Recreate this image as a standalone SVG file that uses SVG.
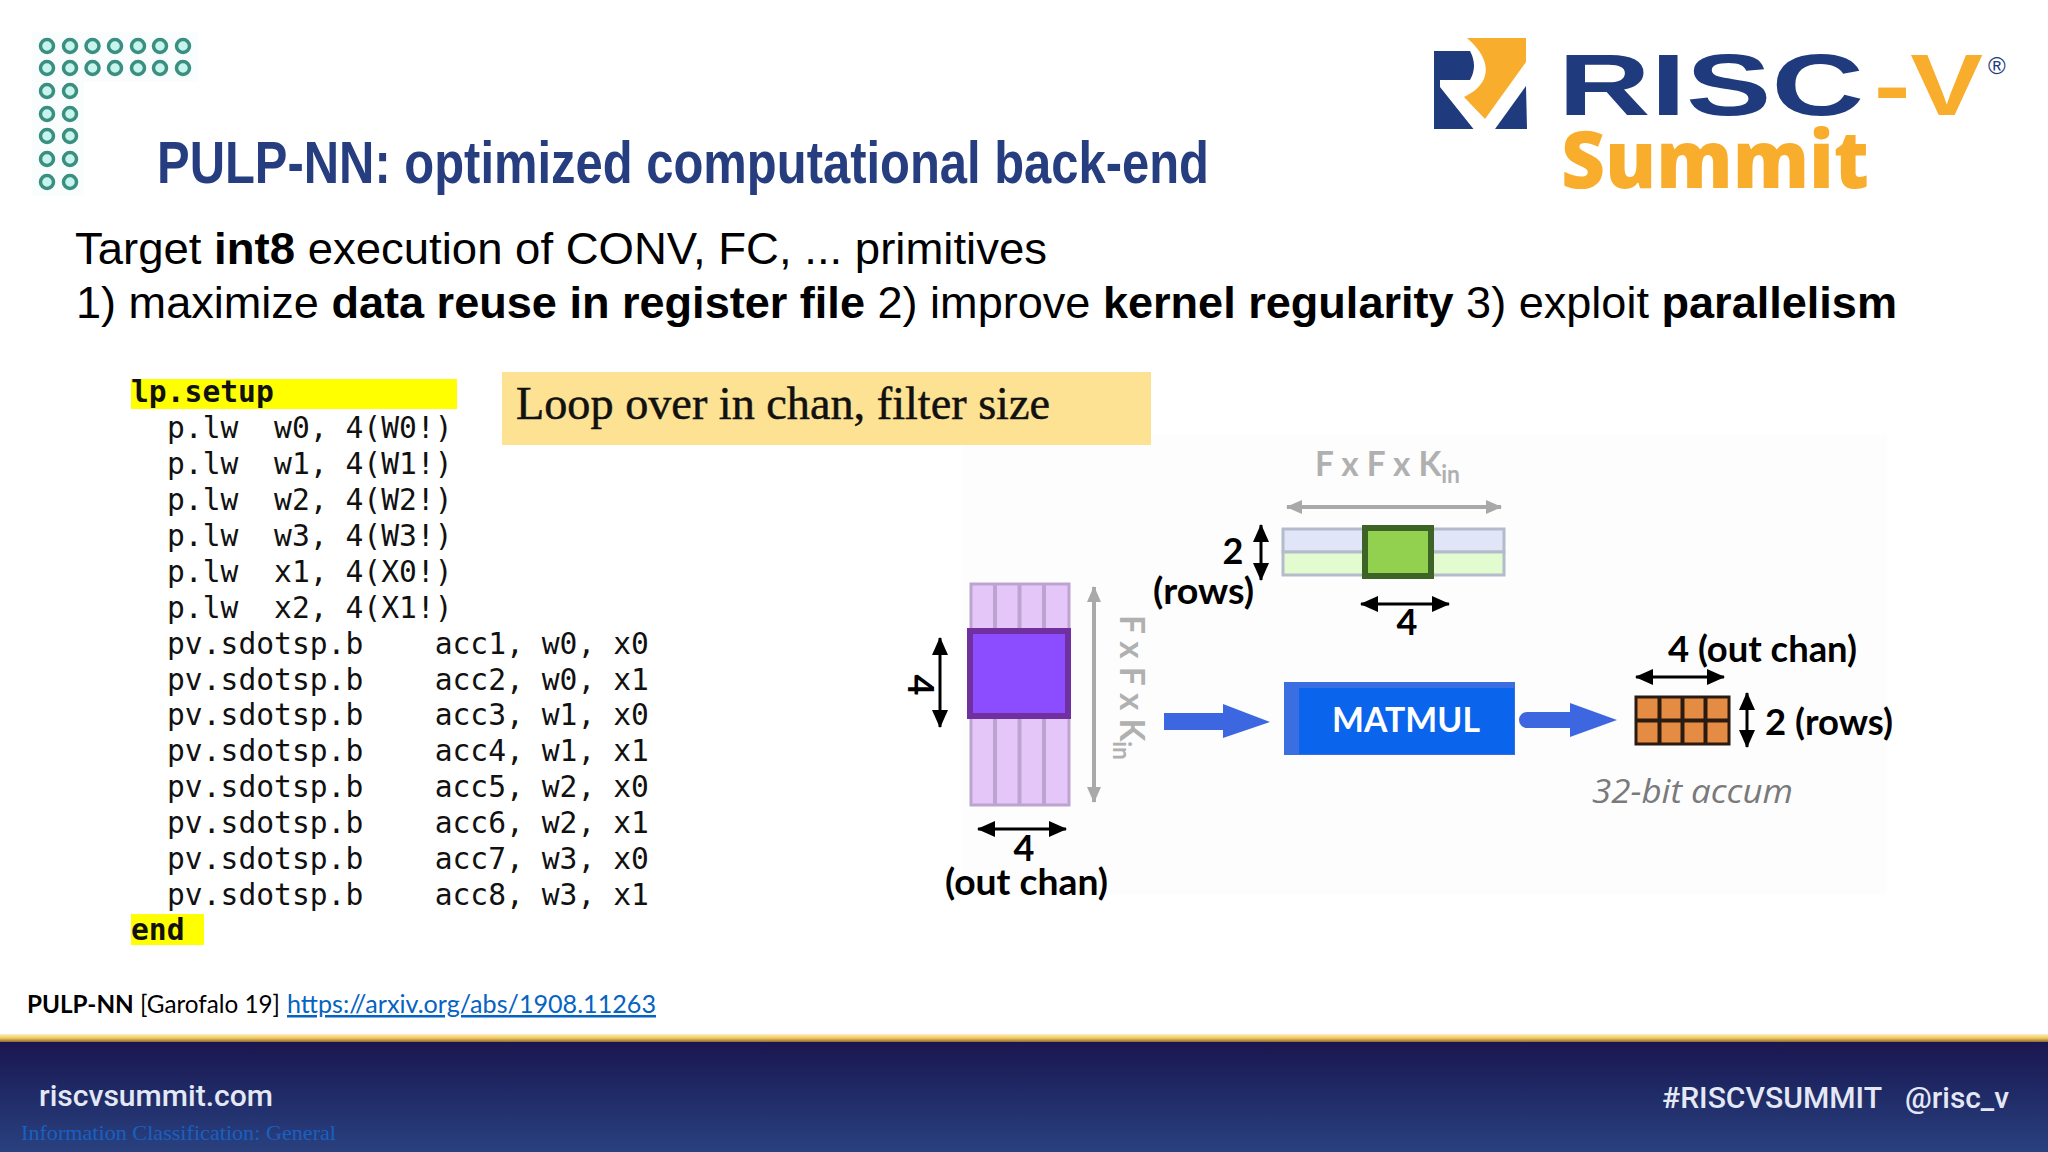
<svg xmlns="http://www.w3.org/2000/svg" width="2048" height="1152" viewBox="0 0 2048 1152">
<defs>
<linearGradient id="foot" x1="0" y1="0" x2="0" y2="1"><stop offset="0" stop-color="#1b1650"/><stop offset="0.45" stop-color="#1f2a66"/><stop offset="1" stop-color="#2a417f"/></linearGradient>
<linearGradient id="gold" x1="0" y1="0" x2="0" y2="1"><stop offset="0" stop-color="#fdf0c0"/><stop offset="0.5" stop-color="#f4c860"/><stop offset="1" stop-color="#8a6a30"/></linearGradient>
<marker id="bk" viewBox="0 0 18 16" refX="17" refY="8" markerWidth="18" markerHeight="16" markerUnits="userSpaceOnUse" orient="auto-start-reverse"><path d="M0 0L18 8L0 16Z" fill="#000"/></marker>
<marker id="gy" viewBox="0 0 16 14" refX="15" refY="7" markerWidth="16" markerHeight="14" markerUnits="userSpaceOnUse" orient="auto-start-reverse"><path d="M0 0L16 7L0 14Z" fill="#a9a9a9"/></marker>
</defs>
<style>
.code{font-family:"DejaVu Sans Mono",monospace;font-size:29.65px;fill:#111;white-space:pre}
.cb{font-weight:700}
.body{font-family:"Liberation Sans",Arial,sans-serif;font-size:44px;fill:#000}
.b{font-weight:700}
.lbl{font-family:"Lato",sans-serif;font-weight:700;font-size:36px;fill:#000}
.gl{font-family:"Lato",sans-serif;font-weight:700;font-size:35px;fill:#b0b0b0}
.dim{stroke:#000;stroke-width:3;fill:none;marker-start:url(#bk);marker-end:url(#bk)}
.gdim{stroke:#a9a9a9;stroke-width:4;fill:none;marker-start:url(#gy);marker-end:url(#gy)}
.dot{fill:#c8f4ee;stroke:#3a8f80;stroke-width:3.5}
.ft{font-family:"Roboto",sans-serif;font-weight:500;fill:#e4e8f4;font-size:30px}
.blue{fill:#3c67e0}
.div{stroke-width:4;fill:none}
</style>
<rect width="2048" height="1152" fill="#fff"/>
<rect x="962" y="435" width="925" height="460" fill="#fdfdfe"/>

<g id="dots-logo">
<rect x="32" y="32" width="166" height="50" fill="#f9fdfd"/><rect x="32" y="80" width="52" height="116" fill="#f9fdfd"/>
<g class="dot">
<circle cx="47" cy="46" r="6.5"/><circle cx="70" cy="46" r="6.5"/><circle cx="92.500" cy="46" r="6.500"/><circle cx="115" cy="46" r="6.500"/><circle cx="138" cy="46" r="6.500"/><circle cx="160" cy="46" r="6.500"/><circle cx="183" cy="46" r="6.500"/>
<circle cx="47" cy="68" r="6.500"/><circle cx="70" cy="68" r="6.500"/><circle cx="92.500" cy="68" r="6.500"/><circle cx="115" cy="68" r="6.500"/><circle cx="138" cy="68" r="6.500"/><circle cx="160" cy="68" r="6.500"/><circle cx="183" cy="68" r="6.500"/>
<circle cx="47" cy="91" r="6.500"/><circle cx="70" cy="91" r="6.500"/><circle cx="47" cy="114" r="6.500"/><circle cx="70" cy="114" r="6.500"/><circle cx="47" cy="136" r="6.500"/><circle cx="70" cy="136" r="6.500"/><circle cx="47" cy="159" r="6.500"/><circle cx="70" cy="159" r="6.500"/><circle cx="47" cy="182" r="6.500"/><circle cx="70" cy="182" r="6.500"/>
</g>
</g>

<g id="title"><text x="157" y="183" font-family="Liberation Sans, Arial, sans-serif" font-weight="700" font-size="60" fill="#263e80" textLength="1052" lengthAdjust="spacingAndGlyphs">PULP-NN: optimized computational back-end</text></g>

<g id="riscv-logo">
<path d="M1434 51H1470Q1478 66 1470 80H1440V87L1473.500 129H1434Z" fill="#1f3a7d"/>
<path d="M1526 86L1527 129H1495Z" fill="#1f3a7d"/>
<path d="M1467 38H1526V62L1485 119L1464 97C1490 85 1495 62 1467 38Z" fill="#f9ad2c"/>
<text x="1558" y="115" font-family="Liberation Sans, Arial, sans-serif" font-weight="700" font-size="87" fill="#1f3a7d" textLength="306" lengthAdjust="spacingAndGlyphs">RISC</text>
<text x="1874" y="115" font-family="Liberation Sans, Arial, sans-serif" font-weight="700" font-size="87" fill="#f9ad2c" textLength="109" lengthAdjust="spacingAndGlyphs">-V</text>
<text x="1988" y="74" font-family="Liberation Sans, Arial, sans-serif" font-size="24" fill="#1f3a7d">®</text>
<text x="1561" y="188" font-family="Open Sans, sans-serif" font-weight="800" font-size="80" fill="#f9ad2c" textLength="308" lengthAdjust="spacingAndGlyphs">Summit</text>
</g>

<g id="intro">
<text class="body" x="75" y="264" textLength="972" lengthAdjust="spacingAndGlyphs">Target <tspan class="b">int8</tspan> execution of CONV, FC, ... primitives</text>
<text class="body" x="76" y="318" textLength="1821" lengthAdjust="spacingAndGlyphs">1) maximize <tspan class="b">data reuse in register file</tspan> 2) improve <tspan class="b">kernel regularity</tspan> 3) exploit <tspan class="b">parallelism</tspan></text>
</g>

<g id="code">
<rect x="131" y="379" width="326" height="30" fill="#ffff00"/>
<rect x="131" y="914" width="73" height="31" fill="#ffff00"/>
<text class="code cb" x="131" y="402">lp.setup</text>
<text class="code" x="167" y="438">p.lw  w0, 4(W0!)</text>
<text class="code" x="167" y="474">p.lw  w1, 4(W1!)</text>
<text class="code" x="167" y="510">p.lw  w2, 4(W2!)</text>
<text class="code" x="167" y="546">p.lw  w3, 4(W3!)</text>
<text class="code" x="167" y="581.500">p.lw  x1, 4(X0!)</text>
<text class="code" x="167" y="617.500">p.lw  x2, 4(X1!)</text>
<text class="code" x="167" y="653.500">pv.sdotsp.b    acc1, w0, x0</text>
<text class="code" x="167" y="689.500">pv.sdotsp.b    acc2, w0, x1</text>
<text class="code" x="167" y="725">pv.sdotsp.b    acc3, w1, x0</text>
<text class="code" x="167" y="761">pv.sdotsp.b    acc4, w1, x1</text>
<text class="code" x="167" y="797">pv.sdotsp.b    acc5, w2, x0</text>
<text class="code" x="167" y="833">pv.sdotsp.b    acc6, w2, x1</text>
<text class="code" x="167" y="869">pv.sdotsp.b    acc7, w3, x0</text>
<text class="code" x="167" y="905">pv.sdotsp.b    acc8, w3, x1</text>
<text class="code cb" x="131" y="940">end</text>
</g>

<g id="loop-note">
<rect x="502" y="372" width="649" height="73" fill="#fde293"/>
<text x="516" y="419" font-family="Liberation Serif, serif" font-size="46" fill="#111" stroke="#111" stroke-width="0.5" textLength="534" lengthAdjust="spacingAndGlyphs">Loop over in chan, filter size</text>
</g>

<g id="weights-matrix">
<rect x="971" y="584" width="98" height="221" fill="#e4c6f8" stroke="#bda4d0" stroke-width="3"/>
<path class="div" stroke="#bda4d0" d="M995 584V805M1019.500 584V805M1044 584V805"/>
<rect x="970" y="631" width="98" height="85" fill="#8b4dff" stroke="#7030a0" stroke-width="6"/>
</g>

<g id="input-matrix">
<rect x="1283" y="529" width="221" height="23" fill="#e0e6f8" stroke="#b4bccc" stroke-width="3"/>
<rect x="1283" y="552" width="221" height="23" fill="#e2fbcf" stroke="#b4bccc" stroke-width="3"/>
<rect x="1365" y="528" width="66" height="48" fill="#92d050" stroke="#3d6326" stroke-width="6"/>
</g>

<g id="matmul">
<rect x="1284" y="682" width="231" height="73" fill="#3b6ee0"/>
<rect x="1299" y="688" width="215" height="66" fill="#0a64ec"/>
<text x="1406" y="732" text-anchor="middle" font-family="Lato, sans-serif" font-weight="700" font-size="35" fill="#fff" textLength="148" lengthAdjust="spacingAndGlyphs">MATMUL</text>
</g>

<g id="accum">
<rect x="1636" y="697" width="93" height="47" fill="#e58c44" stroke="#2a1a10" stroke-width="3"/>
<path class="div" stroke="#2a1a10" d="M1636 720.500H1729M1659.500 697V744M1682.500 697V744M1705.500 697V744"/>
</g>

<g id="connectors">
<path class="gdim" d="M1094 587V802"/>
<path class="gdim" d="M1287 507H1501"/>
<path class="dim" d="M940 638V727"/>
<path class="dim" d="M978 829H1066"/>
<path class="dim" d="M1261 525V580"/>
<path class="dim" d="M1361 604H1449"/>
<path class="dim" d="M1636 677H1724"/>
<path class="dim" d="M1747 693V747"/>
<path class="blue" d="M1164 713H1223V704L1270 722L1223 738V730H1164Z"/>
<path class="blue" d="M1527 712H1570V703L1617 720L1570 737V728H1527A8 8 0 0 1 1527 712Z"/>
</g>

<g id="labels">
<text class="gl" x="1315" y="476" textLength="145" lengthAdjust="spacingAndGlyphs">F x F x K<tspan font-size="24" dy="7">in</tspan></text>
<text class="gl" transform="translate(1120 615) rotate(90)" textLength="145" lengthAdjust="spacingAndGlyphs">F x F x K<tspan font-size="24" dy="7">in</tspan></text>
<text class="lbl" x="1233" y="564" text-anchor="middle">2</text>
<text class="lbl" x="1153" y="604" textLength="101" lengthAdjust="spacingAndGlyphs">(rows)</text>
<text class="lbl" x="1407" y="635" text-anchor="middle">4</text>
<text class="lbl" transform="translate(908 685) rotate(90)" text-anchor="middle">4</text>
<text class="lbl" x="1024" y="861" text-anchor="middle">4</text>
<text class="lbl" x="945" y="895" textLength="163" lengthAdjust="spacingAndGlyphs">(out chan)</text>
<text class="lbl" x="1668" y="662" textLength="189" lengthAdjust="spacingAndGlyphs">4 (out chan)</text>
<text class="lbl" x="1765" y="735" textLength="128" lengthAdjust="spacingAndGlyphs">2 (rows)</text>
<text x="1592" y="803" font-family="Open Sans, sans-serif" font-style="italic" font-size="33" fill="#7a7a7a" textLength="201" lengthAdjust="spacingAndGlyphs">32-bit  accum</text>
</g>

<g id="reference">
<text x="27" y="1013" font-family="Lato, sans-serif" font-size="25" fill="#000" textLength="253" lengthAdjust="spacingAndGlyphs"><tspan font-weight="700">PULP-NN</tspan> [Garofalo 19]</text>
<text x="287" y="1013" font-family="Lato, sans-serif" font-size="25" fill="#0563c1" text-decoration="underline" textLength="369" lengthAdjust="spacingAndGlyphs">https://arxiv.org/abs/1908.11263</text>
</g>

<g id="footer">
<rect x="0" y="1042" width="2048" height="110" fill="url(#foot)"/>
<rect x="0" y="1034" width="2048" height="8" fill="url(#gold)"/>
<text class="ft" x="39" y="1106" textLength="234" lengthAdjust="spacingAndGlyphs">riscvsummit.com</text>
<text x="21" y="1140" font-family="Liberation Serif, serif" font-size="21" fill="#1a60c0" textLength="315" lengthAdjust="spacingAndGlyphs">Information Classification: General</text>
<text class="ft" x="1662" y="1108" textLength="220" lengthAdjust="spacingAndGlyphs">#RISCVSUMMIT</text>
<text class="ft" x="1905" y="1108" textLength="104" lengthAdjust="spacingAndGlyphs">@risc_v</text>
</g>
</svg>
